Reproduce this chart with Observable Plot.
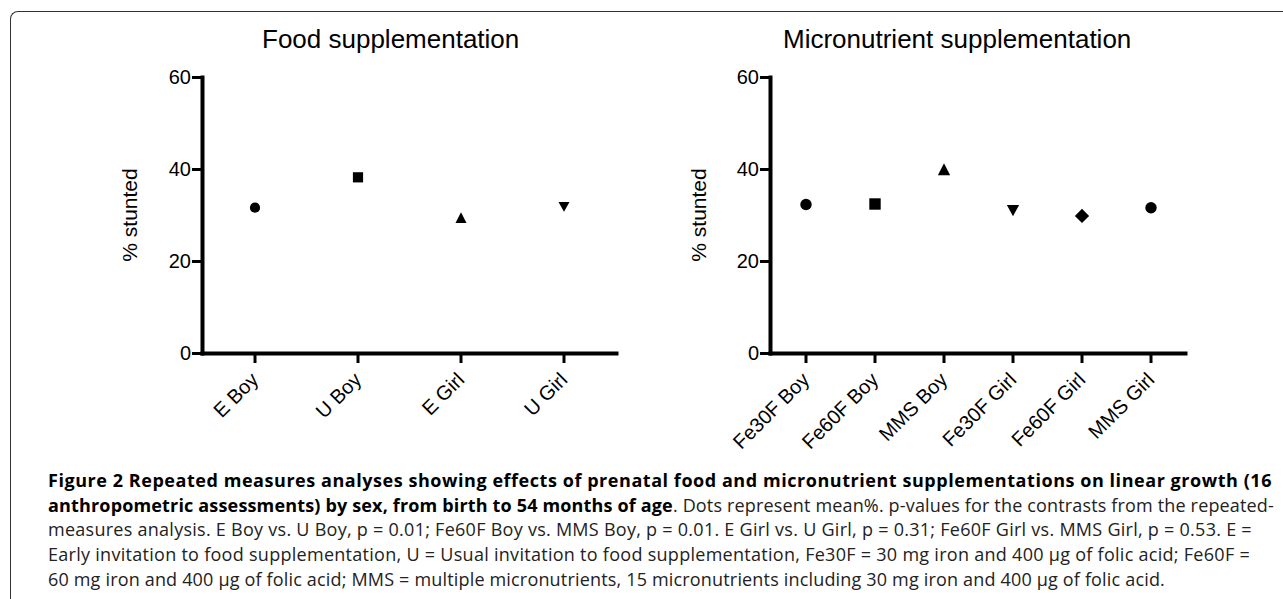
<!DOCTYPE html>
<html><head><meta charset="utf-8">
<script src="https://cdn.jsdelivr.net/npm/d3@7"></script>
<script src="https://cdn.jsdelivr.net/npm/@observablehq/plot@0.6"></script>
<style>
html,body{margin:0;padding:0;background:#fff;width:1283px;height:599px;overflow:hidden;position:relative;}
#frame{position:absolute;left:10px;top:11px;width:1400px;height:700px;border:1.5px solid #333;border-right:none;border-bottom:none;border-top-left-radius:8px;box-sizing:border-box;}
.title{position:absolute;top:26px;font-family:"Liberation Sans",Arial,sans-serif;font-size:26px;line-height:26px;color:#000;white-space:nowrap;}
.ylab{position:absolute;font-family:"Liberation Sans",Arial,sans-serif;font-size:21px;line-height:21px;color:#000;white-space:nowrap;transform:translate(-50%,-50%) rotate(-90deg);}
.plot{position:absolute;top:0;}
#caption{position:absolute;left:48px;top:468px;font-family:"Open Sans",sans-serif;font-size:18px;line-height:24.7px;color:#222;}
#caption div{white-space:nowrap;}
#caption b{color:#000;}
</style></head>
<body>
<div id="frame"></div>
<div class="title" style="left:262px">Food supplementation</div>
<div class="title" style="left:783px">Micronutrient supplementation</div>
<div class="ylab" style="left:129px;top:215px">% stunted</div>
<div class="ylab" style="left:698px;top:215px">% stunted</div>
<div id="p1" class="plot" style="left:0px"></div>
<div id="p2" class="plot" style="left:640px"></div>
<div id="caption">
<div><span class="ln"><b>Figure 2 Repeated measures analyses showing effects of prenatal food and micronutrient supplementations on linear growth (16</b></span></div>
<div><span class="ln"><b>anthropometric assessments) by sex, from birth to 54 months of age</b>. Dots represent mean%. p-values for the contrasts from the repeated-</span></div>
<div><span class="ln">measures analysis. E Boy vs. U Boy, p = 0.01; Fe60F Boy vs. MMS Boy, p = 0.01. E Girl vs. U Girl, p = 0.31; Fe60F Girl vs. MMS Girl, p = 0.53. E =</span></div>
<div><span class="ln">Early invitation to food supplementation, U = Usual invitation to food supplementation, Fe30F = 30 mg iron and 400 µg of folic acid; Fe60F =</span></div>
<div><span class="ln">60 mg iron and 400 µg of folic acid; MMS = multiple micronutrients, 15 micronutrients including 30 mg iron and 400 µg of folic acid.</span></div>
</div>
<script>
const foodCategories = ["E Boy", "U Boy", "E Girl", "U Girl"];
const foodValues = [31.7, 38.3, 29.5, 31.9];
const foodShapes = ["circle", "square", "triangleUp", "triangleDown"];

const microCategories = ["Fe30F Boy", "Fe60F Boy", "MMS Boy", "Fe30F Girl", "Fe60F Girl", "MMS Girl"];
const microValues = [32.4, 32.5, 40.0, 31.1, 29.9, 31.7];
const microShapes = ["circle", "square", "triangleUp", "triangleDown", "diamond", "circle"];

const yTicks = [0, 20, 40, 60];
const yDomain = [0, 60];

const rad = s => Math.sqrt(s / Math.PI);
const shapeDefs = {
  circle: {draw(c, s) { const r = rad(s); c.moveTo(r, 0); c.arc(0, 0, r, 0, 2 * Math.PI); }},
  square: {draw(c, s) { const r = rad(s); c.rect(-r, -r, 2 * r, 2 * r); }},
  triangleUp: {draw(c, s) { const r = rad(s); c.moveTo(0, -r * 1.08); c.lineTo(r * 1.08, r * 1.0); c.lineTo(-r * 1.08, r * 1.0); c.closePath(); }},
  triangleDown: {draw(c, s) { const r = rad(s); c.moveTo(0, r * 1.0); c.lineTo(r * 1.08, -r * 0.95); c.lineTo(-r * 1.08, -r * 0.95); c.closePath(); }},
  diamond: {draw(c, s) { const r = rad(s) * 1.25; c.moveTo(0, -r); c.lineTo(r, 0); c.lineTo(0, r); c.lineTo(-r, 0); c.closePath(); }}
};

function chart(cats, vals, shapes, o) {
  const data = cats.map((c, i) => ({cat: c, val: vals[i], shape: shapes[i]}));
  const marks = [
    Plot.axisY({ticks: yTicks, tickSize: 10, tickPadding: 1.5, strokeWidth: 3, label: null, fontSize: 20, tickFormat: d => String(d)}),
    Plot.axisX({tickSize: 10, tickPadding: 13, tickRotate: -45, strokeWidth: 3, label: null, fontSize: 20}),
    Plot.frame({anchor: "left", strokeWidth: 4, strokeLinecap: "square", stroke: "#000"}),
    Plot.frame({anchor: "bottom", strokeWidth: 4, strokeLinecap: "square", stroke: "#000"}),
    ...Object.keys(shapeDefs).map(k => Plot.dot(data.filter(d => d.shape === k),
      {x: "cat", y: "val", r: o.r, symbol: shapeDefs[k], fill: "#000", stroke: "none"}))
  ];
  return Plot.plot({
    width: o.width, height: 470,
    marginLeft: o.ml, marginRight: o.mr, marginTop: 77, marginBottom: 117,
    x: {type: "band", domain: cats, padding: 0},
    y: {domain: yDomain},
    style: {fontFamily: "'Liberation Sans', Arial, sans-serif", fontSize: "20px", color: "#000", background: "transparent", overflow: "visible"},
    marks
  });
}

document.getElementById("p1").append(chart(foodCategories, foodValues, foodShapes, {width: 640, ml: 202, mr: 24, r: 5.1}));
document.getElementById("p2").append(chart(microCategories, microValues, microShapes, {width: 643, ml: 130, mr: 98, r: 5.7}));

// fit each caption line to the right edge seen in the reference
const captionLineEnds = [1272, 1274, 1252, 1250, 1165];
const captionLeft = 48;
document.querySelectorAll("#caption .ln").forEach((el, i) => {
  const w = el.getBoundingClientRect().width;
  const n = el.textContent.length;
  const target = captionLineEnds[i] - captionLeft;
  el.style.letterSpacing = ((target - w) / n).toFixed(3) + "px";
});
</script>
</body></html>
